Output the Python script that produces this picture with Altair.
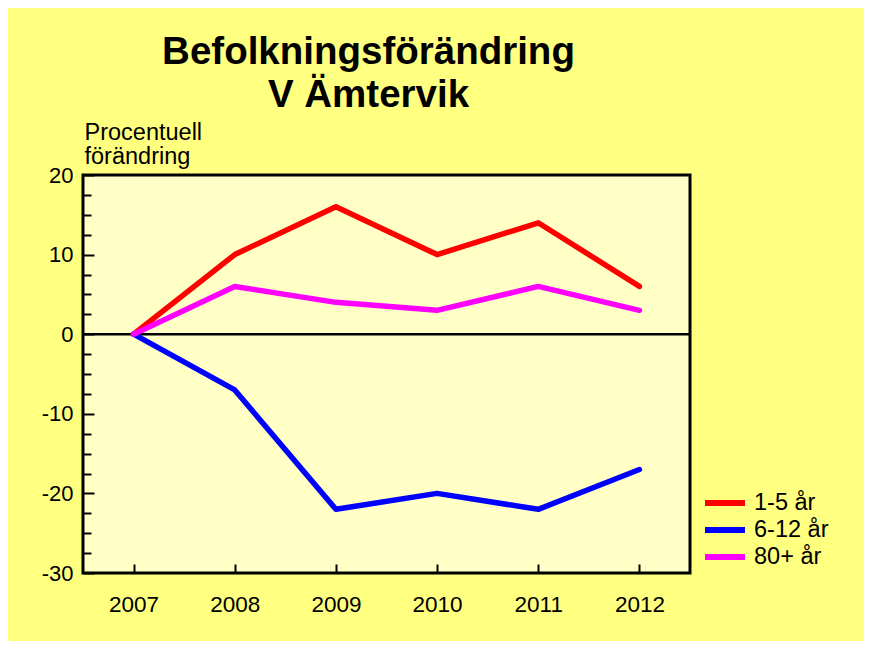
import altair as alt
import pandas as pd

years = [2007, 2008, 2009, 2010, 2011, 2012]
series_names = ["1-5 år", "6-12 år", "80+ år"]
s_1_5 = [0, 10, 16, 10, 14, 6]
s_6_12 = [0, -7, -22, -20, -22, -17]
s_80 = [0, 6, 4, 3, 6, 3]
colors = ["#FF0000", "#0000FF", "#FF00FF"]
y_major = [-30, -20, -10, 0, 10, 20]
y_minor = [-27.5, -25, -22.5, -17.5, -15, -12.5, -7.5, -5, -2.5,
           2.5, 5, 7.5, 12.5, 15, 17.5]

rows = []
for name, vals in zip(series_names, [s_1_5, s_6_12, s_80]):
    for yr, v in zip(years, vals):
        rows.append({"year": yr, "value": v, "series": name})
df = pd.DataFrame(rows)

FONT = "Liberation Sans"
W, H = 607, 398
xscale = alt.Scale(domain=[2006.5, 2012.5], nice=False, zero=False)
yscale = alt.Scale(domain=[-30, 20], nice=False, zero=False)

base = alt.Chart(df)

zero_rule = alt.Chart(pd.DataFrame({"z": [0]})).mark_rule(
    color="black", strokeWidth=2.5
).encode(y=alt.Y("z:Q", scale=yscale, axis=None))

lines = base.mark_line(strokeWidth=5.5, strokeCap="round", strokeJoin="round").encode(
    x=alt.X("year:Q", scale=xscale,
            axis=alt.Axis(values=years, labelExpr="'' + datum.value", ticks=False,
                          domain=False, grid=False,
                          labelFontSize=22.5, labelFont=FONT, labelColor="black",
                          labelPadding=20, title=None)),
    y=alt.Y("value:Q", scale=yscale,
            axis=alt.Axis(values=y_major, labelExpr="'' + datum.value", ticks=False,
                          domain=False, grid=False,
                          labelFontSize=22, labelFont=FONT, labelColor="black",
                          labelPadding=10,
                          title=["Procentuell", "förändring"], titleAngle=0,
                          titleAlign="left", titleBaseline="alphabetic",
                          titleX=1, titleY=-36, titleFontSize=23.5, titleFont=FONT,
                          titleFontWeight="normal", titleColor="black",
                          titleLineHeight=24)),
    color=alt.Color("series:N",
                    scale=alt.Scale(domain=series_names, range=colors),
                    legend=alt.Legend(title=None, orient="none", legendX=629, legendY=315,
                                      symbolType="M-2,0H2", symbolSize=400,
                                      symbolStrokeWidth=6, labelFontSize=23.5,
                                      labelFont=FONT, labelColor="black",
                                      labelOffset=16, rowPadding=2, padding=0)),
)

major_ticks = base.mark_line(opacity=0).encode(
    x=alt.X("year:Q", scale=xscale,
            axis=alt.Axis(orient="top", offset=-H, values=years, ticks=True, tickSize=9,
                          tickWidth=2, tickColor="black", labels=False, domain=False,
                          grid=False, title=None)),
    y=alt.Y("value:Q", scale=yscale,
            axis=alt.Axis(orient="right", offset=-W, values=y_major, ticks=True,
                          tickSize=11, tickWidth=2, tickColor="black", labels=False,
                          domain=False, grid=False, title=None)),
)

minor_ticks = base.mark_line(opacity=0).encode(
    x=alt.X("year:Q", scale=xscale, axis=None),
    y=alt.Y("value:Q", scale=yscale,
            axis=alt.Axis(orient="right", offset=-W, values=y_minor, ticks=True,
                          tickSize=8, tickWidth=2, tickColor="black", labels=False,
                          domain=False, grid=False, title=None)),
)

chart = alt.layer(zero_rule, lines, major_ticks, minor_ticks).resolve_axis(
    x="independent", y="independent"
).properties(
    width=W, height=H,
    autosize=alt.AutoSizeParams(type="none"),
    padding={"left": 75, "top": 167, "right": 174, "bottom": 68},
    background="#FFFF80",
    title=alt.TitleParams(text=["Befolkningsförändring", "V Ämtervik"],
                          fontSize=38.5, font=FONT, fontWeight="bold", color="black",
                          anchor="middle", dx=-18, dy=-1, lineHeight=43),
).configure_view(
    fill="#FFFFC6", stroke="black", strokeWidth=3
)

chart.save("out.html", embed_options={"renderer": "svg", "actions": False})
